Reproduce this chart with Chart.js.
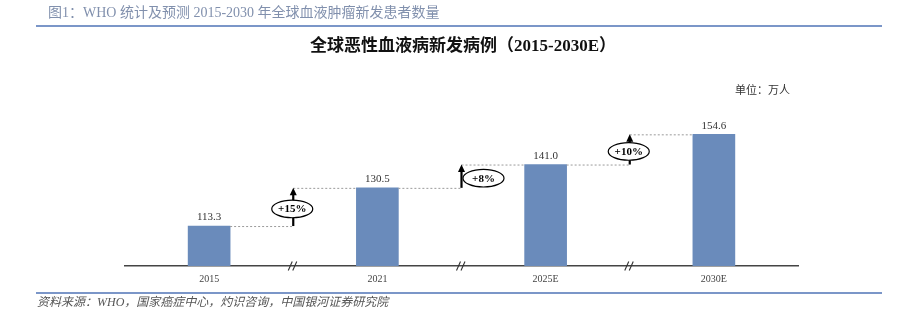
<!DOCTYPE html>
<html><head><meta charset="utf-8">
<script src="https://cdn.jsdelivr.net/npm/chart.js@4/dist/chart.umd.min.js"></script>
<style>
html,body{margin:0;padding:0;background:#fff;width:902px;height:321px;overflow:hidden}
body{position:relative}
canvas{position:absolute;left:0;top:0}
.t{position:absolute;white-space:nowrap}
#hdr{left:48px;top:5px;font:14px/16px "Liberation Serif","Noto Sans CJK SC",serif;color:#8190ad}
#hline{position:absolute;left:36px;top:25px;width:846px;height:2px;background:#7b96c8}
#ttl{left:0;width:926px;text-align:center;top:37px;font:bold 17px/18px "Liberation Serif","Noto Sans CJK SC",serif;color:#111}
#unit{left:735px;top:83px;font:11px/13px "Noto Sans CJK SC",sans-serif;color:#333}
#fline{position:absolute;left:36px;top:292px;width:846px;height:1.5px;background:#7b96c8}
#src{left:37px;top:295px;font:italic 12px/14px "Liberation Serif","Noto Sans CJK SC",serif;color:#555}
</style>
</head><body>
<canvas id="c" width="902" height="321"></canvas>
<div class="t" id="hdr">图1：WHO 统计及预测 2015-2030 年全球血液肿瘤新发患者数量</div>
<div id="hline"></div>
<div class="t" id="ttl">全球恶性血液病新发病例（2015-2030E）</div>
<div class="t" id="unit">单位：万人</div>
<div id="fline"></div>
<div class="t" id="src">资料来源：WHO，国家癌症中心，灼识咨询，中国银河证券研究院</div>
<script>
const categories = ['2015', '2021', '2025E', '2030E'];
const patients = [113.3, 130.5, 141.0, 154.6];
const growthLabels = ['+15%', '+8%', '+10%'];

const axisLabels = [''];
const barData = [null];
categories.forEach((c, i) => { axisLabels.push(c, ''); barData.push(patients[i], null); });

const annot = {
  id: 'annot',
  afterDatasetsDraw(chart) {
    const ctx = chart.ctx;
    const xs = chart.scales.x, ys = chart.scales.y;
    const bars = chart.getDatasetMeta(0).data;
    const barIdx = [];
    barData.forEach((v, i) => { if (v !== null) barIdx.push(i); });
    ctx.save();
    for (let k = 0; k < barIdx.length - 1; k++) {
      const a = bars[barIdx[k]], b = bars[barIdx[k + 1]];
      const gx = xs.getPixelForValue(barIdx[k] + 1);
      const lowY = ys.getPixelForValue(patients[k]);
      const upY = ys.getPixelForValue(patients[k + 1]);
      ctx.strokeStyle = '#9a9a9a'; ctx.lineWidth = 1; ctx.setLineDash([2, 2]);
      ctx.beginPath();
      ctx.moveTo(a.x + a.width / 2, lowY + 0.5); ctx.lineTo(gx, lowY + 0.5);
      ctx.moveTo(gx, upY + 0.5); ctx.lineTo(b.x - b.width / 2, upY + 0.5);
      ctx.stroke();
      ctx.setLineDash([]);
      ctx.strokeStyle = '#000'; ctx.fillStyle = '#000'; ctx.lineWidth = 2.2;
      ctx.beginPath(); ctx.moveTo(gx, lowY); ctx.lineTo(gx, upY + 6); ctx.stroke();
      ctx.beginPath(); ctx.moveTo(gx, upY); ctx.lineTo(gx - 3.5, upY + 7.5); ctx.lineTo(gx + 3.5, upY + 7.5); ctx.closePath(); ctx.fill();
      const gap = lowY - upY;
      const cx = gap < 27 ? gx + 22 : gx - 1;
      const cy = (lowY + upY) / 2 + 2;
      ctx.beginPath(); ctx.ellipse(cx, cy, 20.5, 8.8, 0, 0, Math.PI * 2);
      ctx.fillStyle = '#fff'; ctx.fill();
      ctx.lineWidth = 1.2; ctx.strokeStyle = '#000'; ctx.stroke();
      ctx.fillStyle = '#000'; ctx.font = 'bold 11px "Liberation Serif"';
      ctx.textAlign = 'center'; ctx.textBaseline = 'middle';
      ctx.fillText(growthLabels[k], cx, cy + 0.5);
      const by = chart.chartArea.bottom;
      ctx.strokeStyle = '#333'; ctx.lineWidth = 1.1;
      ctx.beginPath();
      [-2.5, 2].forEach(d => { ctx.moveTo(gx + d - 2.5, by + 4.5); ctx.lineTo(gx + d + 1.5, by - 4.5); });
      ctx.stroke();
    }
    ctx.fillStyle = '#333'; ctx.font = '11px "Liberation Serif"';
    ctx.textAlign = 'center'; ctx.textBaseline = 'middle';
    barIdx.forEach((i, k) => {
      const el = bars[i];
      ctx.fillText(patients[k].toFixed(1), el.x, el.y - 8.5);
    });
    ctx.restore();
  }
};

new Chart(document.getElementById('c'), {
  type: 'bar',
  data: {
    labels: axisLabels,
    datasets: [{ data: barData, backgroundColor: '#6a8bbb', barThickness: 42 }]
  },
  options: {
    responsive: false, animation: false,
    layout: { padding: { left: 125, right: 104, top: 122.35, bottom: 29 } },
    plugins: { legend: { display: false }, tooltip: { enabled: false } },
    scales: {
      x: {
        offset: false,
        grid: { display: false, drawTicks: false },
        border: { display: true, color: '#444', width: 1.6 },
        ticks: { autoSkip: false, maxRotation: 0, padding: 7, color: '#444', font: { family: 'Liberation Serif', size: 10 } }
      },
      y: { display: false, min: 95.3, max: 160 }
    }
  },
  plugins: [annot]
});
</script>
</body></html>
